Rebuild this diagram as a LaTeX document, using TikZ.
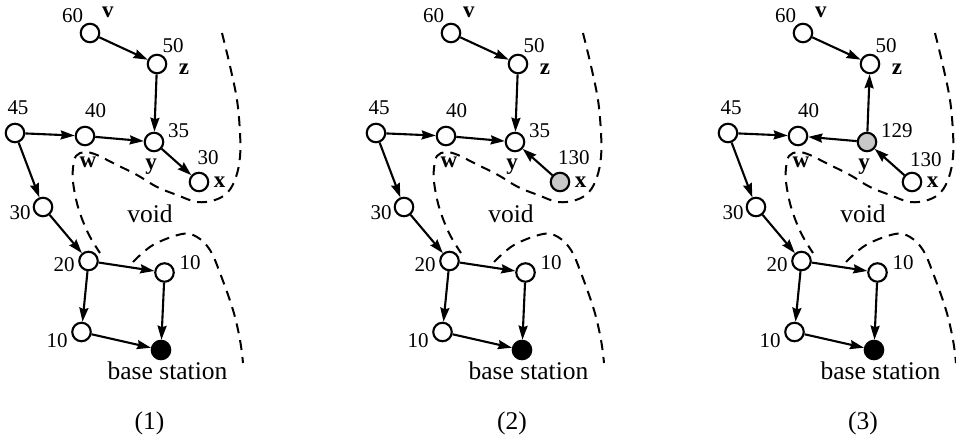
\documentclass[tikz,border=0pt]{standalone}
\usepackage{fontspec}
\setmainfont{Liberation Serif}
\usetikzlibrary{arrows.meta}
\definecolor{nodegray}{RGB}{200,200,200}
\tikzset{
  vtx/.style={circle,draw,line width=2.1pt,minimum size=18.5pt,inner sep=0pt,fill=white},
  grayvtx/.style={vtx,fill=nodegray},
  bsvtx/.style={vtx,fill=black},
  edge/.style={line width=2.1pt,-{Stealth[length=14pt,width=9pt,inset=1.5pt]}},
  voidline/.style={line width=2pt,dash pattern=on 10pt off 7pt},
  num/.style={inner sep=0pt,font=\fontsize{21}{21}\selectfont,anchor=base},
  numw/.style={num,anchor=base west},
  lett/.style={inner sep=0pt,font=\fontsize{23}{23}\selectfont\bfseries,anchor=base},
  big/.style={inner sep=0pt,font=\fontsize{25.5}{25.5}\selectfont,anchor=base}
}
\newcommand\drawpanel[1]{%
  \node[vtx] (#1v) at (90,33) {};
  \node[vtx] (#1z) at (157,64) {};
  \node[vtx] (#1a) at (15,133) {};
  \node[vtx] (#1w) at (85,136) {};
  \node[vtx] (#1b) at (43,207) {};
  \node[vtx] (#1c) at (88.5,261) {};
  \node[vtx] (#1r) at (164.5,272.5) {};
  \node[vtx] (#1l) at (81.5,332) {};
  \node[bsvtx] (#1s) at (161,350) {};
  \node[num] (#1t60) at (72.7,22.3) {60};
  \node[lett] (#1tv) at (107.8,17.7) {v};
  \node[num] (#1t50) at (173,53) {50};
  \node[lett] (#1tz) at (184,75) {z};
  \node[num] (#1t45) at (18,115) {45};
  \node[num] (#1t40) at (95.5,118) {40};
  \node[lett] (#1tw) at (88,168) {w};
  \node[lett] (#1ty) at (151,170) {y};
  \node[lett] (#1tx) at (219.5,188) {x};
  \node[num] (#1t30) at (20,220) {30};
  \node[num] (#1t20) at (64,272) {20};
  \node[num] (#1t10r) at (190,270) {10};
  \node[num] (#1t10l) at (57,348) {10};
  \node[big] (#1void) at (150,223) {void};
  \node[big] (#1base) at (167.5,380) {base station};
  \draw[voidline] plot[smooth,tension=0.6] coordinates {(222,33) (230,66) (237,100) (240,133) (240,157) (236,177) (228,192) (215,200) (197,202) (177,195) (157,187) (137,175) (113,163) (97,155) (85,152) (76,156) (73,168) (73,182) (78,207) (88,233) (100,253)};
  \draw[voidline] plot[smooth,tension=0.6] coordinates {(133,262) (153,245) (182,234) (197,237) (210,250) (220,273) (233,310) (240,340) (243,363)};
  \draw[edge] (#1v) -- (#1z);
  \draw[edge] (#1a) -- (#1w);
  \draw[edge] (#1a) -- (#1b);
  \draw[edge] (#1b) -- (#1c);
  \draw[edge] (#1c) -- (#1r);
  \draw[edge] (#1c) -- (#1l);
  \draw[edge] (#1r) -- (#1s);
  \draw[edge] (#1l) -- (#1s);
}
\begin{document}
\begin{tikzpicture}[x=1pt,y=-1pt]
\useasboundingbox (0,0) rectangle (956,443);
% panel 1
\begin{scope}
  \drawpanel{p}
  \node[vtx] (py) at (154,142) {};
  \node[vtx] (px) at (199,182) {};
  \node[numw] (pt35) at (168,138) {35};
  \node[numw] (pt30x) at (197.5,165) {30};
  \draw[edge] (pz) -- (py);
  \draw[edge] (pw) -- (py);
  \draw[edge] (py) -- (px);
  \node[big] (pcap) at (149.5,429) {(1)};
\end{scope}
% panel 2
\begin{scope}[xshift=361pt]
  \drawpanel{q}
  \node[vtx] (qy) at (154,142) {};
  \node[grayvtx] (qx) at (199,182) {};
  \node[numw] (qt35) at (168,138) {35};
  \node[numw] (qt130) at (197,165) {130};
  \draw[edge] (qz) -- (qy);
  \draw[edge] (qw) -- (qy);
  \draw[edge] (qx) -- (qy);
  \node[big] (qcap) at (151,429) {(2)};
\end{scope}
% panel 3
\begin{scope}[xshift=713pt]
  \drawpanel{r}
  \node[grayvtx] (ry) at (154,142) {};
  \node[vtx] (rx) at (199,182) {};
  \node[numw] (rt129) at (168,138) {129};
  \node[numw] (rt130) at (197,167) {130};
  \draw[edge] (ry) -- (rz);
  \draw[edge] (ry) -- (rw);
  \draw[edge] (rx) -- (ry);
  \node[big] (rcap) at (150,429) {(3)};
\end{scope}
\end{tikzpicture}
\end{document}
